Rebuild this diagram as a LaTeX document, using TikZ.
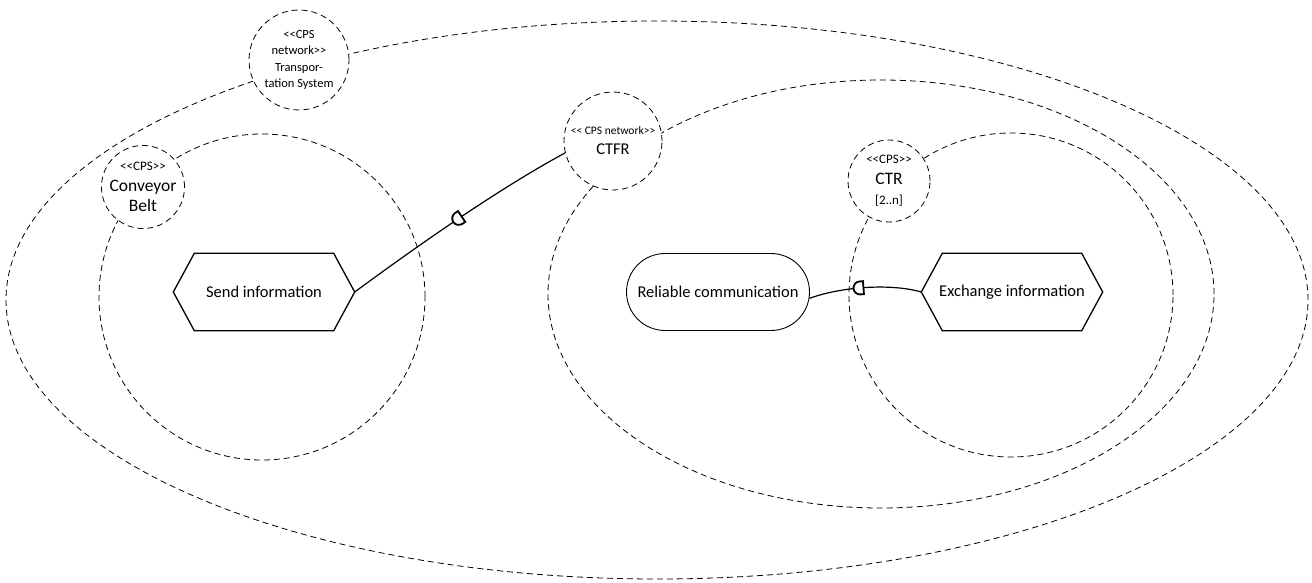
\documentclass[tikz,border=0pt]{standalone}
\usepackage{fontspec}
\setmainfont{Carlito}
\usetikzlibrary{shapes.geometric,shapes.misc}

% stereotype brackets kept as two separate characters
\newcommand{\stl}{<\kern0pt<}
\newcommand{\str}{>\kern0pt>}
\newcommand{\mainsize}{\fontsize{16.5}{19}\selectfont}
\newcommand{\labelsize}{\fontsize{17.5}{20.5}\selectfont}
\newcommand{\tagsize}{\fontsize{13}{20.5}\selectfont}

% hexagonal frame drawn round a rectangular node
\newcommand{\hexframe}[1]{%
  \draw[hexline] (#1.west) -- ([xshift=21pt]#1.north west)
    -- ([xshift=-21pt]#1.north east) -- (#1.east)
    -- ([xshift=-21pt]#1.south east) -- ([xshift=21pt]#1.south west) -- cycle;}

\tikzset{
  boundary/.style={draw, dash pattern=on 6pt off 4pt, line width=0.8pt},
  area/.style={boundary, inner sep=0pt},
  cps/.style={circle, boundary, fill=white, inner sep=0pt, align=center},
  hexline/.style={line width=1.3pt},
  hexnode/.style={rectangle, minimum width=181pt, minimum height=77pt,
    inner sep=0pt, font=\mainsize},
  stadium/.style={rounded rectangle, draw, line width=0.9pt, minimum width=183pt,
    minimum height=77pt, inner sep=0pt, font=\mainsize},
  conn/.style={line width=1.2pt},
  sock/.pic={\draw[line width=1.8pt, fill=white]
    (2,-6.5) -- (2,6.5) -- (-1.5,6.5) arc[start angle=90, end angle=270, radius=6.5] -- cycle;}
}

\begin{document}
\begin{tikzpicture}[x=1pt, y=-1pt]
\useasboundingbox (0,0) rectangle (1312,583);

% containment areas
\node[area, ellipse, minimum width=1302pt, minimum height=558pt] (tsysarea) at (657,300) {};
\node[area, ellipse, minimum width=666pt, minimum height=428pt] (ctfrarea) at (881,294) {};
\node[area, circle, minimum size=326pt] (convarea) at (262,297) {};
\node[area, circle, minimum size=324pt] (ctrarea) at (1011,295) {};

% CPS circles sitting on the area borders
\node[cps, minimum size=100pt, font=\fontsize{12.5}{16.5}\selectfont] (tsys) at (299,60)
  {\stl CPS\\network\str\\Transpor-\\tation System};
\node[cps, minimum size=82pt, font=\labelsize] (conv) at (143,187)
  {{\tagsize\stl CPS\str}\\Conveyor\\Belt};
\node[cps, minimum size=98pt, font=\fontsize{16.5}{20}\selectfont] (ctfr) at (613,141)
  {{\fontsize{11.5}{20}\selectfont\stl\ CPS network\str}\\CTFR};
\node[cps, minimum size=82pt, font=\labelsize] (ctr) at (889,181)
  {{\tagsize\stl CPS\str}\\CTR\\{\tagsize [2..n]}};

% behaviours
\node[hexnode] (send) at (264,292) {Send information};
\hexframe{send}
\node[stadium] (rel) at (718,292) {Reliable communication};
\node[hexnode] (exch) at (1012,292) {Exchange information};
\hexframe{exch}

% connectors with socket marks
\draw[conn] (send.east) .. controls (420,244) and (500,188) .. (ctfr.194)
  pic[pos=0.5, sloped] {sock};
\draw[conn] (rel.-4) .. controls (840,287) and (890,283) .. (exch.west)
  pic[pos=0.47, sloped] {sock};
\end{tikzpicture}
\end{document}
